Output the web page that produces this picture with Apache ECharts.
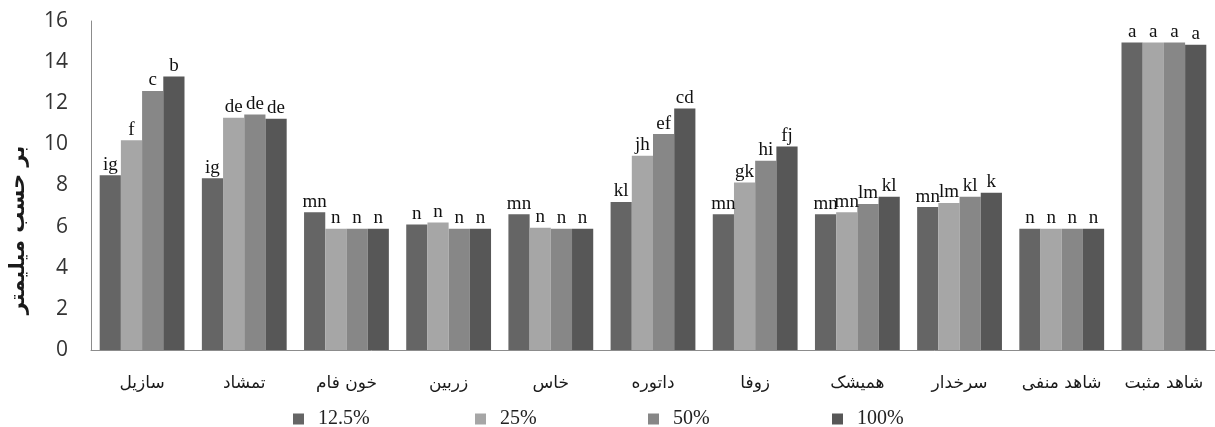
<!DOCTYPE html>
<html>
<head>
<meta charset="utf-8">
<script src="https://cdn.jsdelivr.net/npm/echarts@6/dist/echarts.min.js"></script>
<style>
  html, body { margin: 0; padding: 0; background: #fff; }
  #chart { width: 1215px; height: 427px; }
</style>
</head>
<body>
<div id="chart"></div>
<script>
const categories = ['سازیل', 'تمشاد', 'خون فام', 'زربین', 'خاس', 'داتوره', 'زوفا', 'همیشک', 'سرخدار', 'شاهد منفی', 'شاهد مثبت'];
const seriesNames = ['12.5%', '25%', '50%', '100%'];
const yTicks = [0, 2, 4, 6, 8, 10, 12, 14, 16];

const v125 = [8.5, 8.35, 6.7, 6.1, 6.6, 7.2, 6.6, 6.6, 6.95, 5.9, 14.95];
const v25 = [10.2, 11.3, 5.9, 6.2, 5.95, 9.45, 8.15, 6.7, 7.15, 5.9, 14.95];
const v50 = [12.6, 11.45, 5.9, 5.9, 5.9, 10.5, 9.2, 7.1, 7.45, 5.9, 14.95];
const v100 = [13.3, 11.25, 5.9, 5.9, 5.9, 11.75, 9.9, 7.45, 7.65, 5.9, 14.85];

const l125 = ['ig', 'ig', 'mn', 'n', 'mn', 'kl', 'mn', 'mn', 'mn', 'n', 'a'];
const l25 = ['f', 'de', 'n', 'n', 'n', 'jh', 'gk', 'mn', 'lm', 'n', 'a'];
const l50 = ['c', 'de', 'n', 'n', 'n', 'ef', 'hi', 'lm', 'kl', 'n', 'a'];
const l100 = ['b', 'de', 'n', 'n', 'n', 'cd', 'fj', 'kl', 'k', 'n', 'a'];

const values = [v125, v25, v50, v100];
const letters = [l125, l25, l50, l100];
const colors = ['#656565', '#a6a6a6', '#878787', '#575757'];
const legendLeft = [288, 470, 643, 827];

const chart = echarts.init(document.getElementById('chart'));

chart.setOption({
  animation: false,
  grid: { left: 91, top: 21, width: 1125, height: 329 },
  legend: seriesNames.map((name, i) => ({
    data: [name],
    left: legendLeft[i],
    top: 404,
    itemWidth: 11,
    itemHeight: 11,
    icon: 'rect',
    textStyle: { fontFamily: 'Liberation Serif', fontSize: 20, color: '#222', padding: [0, 0, 0, 9] }
  })),
  xAxis: {
    type: 'category',
    data: categories,
    axisTick: { show: false },
    axisLine: { lineStyle: { color: '#8c8c8c', width: 1 } },
    axisLabel: { interval: 0, fontFamily: 'DejaVu Sans', fontSize: 17, color: '#1a1a1a', margin: 25 }
  },
  yAxis: {
    type: 'value',
    min: yTicks[0],
    max: yTicks[yTicks.length - 1],
    interval: 2,
    splitLine: { show: false },
    axisLine: { show: true, lineStyle: { color: '#8c8c8c', width: 1 } },
    axisTick: { show: false },
    axisLabel: { fontFamily: 'Open Sans', fontSize: 21, color: '#333', margin: 23 }
  },
  graphic: [{
    type: 'text',
    x: 19,
    y: 230,
    rotation: Math.PI / 2,
    style: {
      text: 'بر حسب میلیمتر',
      font: 'bold 21px "DejaVu Sans"',
      fill: '#1a1a1a',
      textAlign: 'center',
      textVerticalAlign: 'middle'
    }
  }],
  series: seriesNames.map((name, i) => ({
    name: name,
    type: 'bar',
    data: values[i],
    barGap: '0%',
    barCategoryGap: '17%',
    itemStyle: { color: colors[i] },
    label: {
      show: true,
      position: 'top',
      distance: 1,
      fontFamily: 'Liberation Serif',
      fontSize: 19,
      color: '#111',
      formatter: p => letters[i][p.dataIndex]
    }
  }))
});
</script>
</body>
</html>
